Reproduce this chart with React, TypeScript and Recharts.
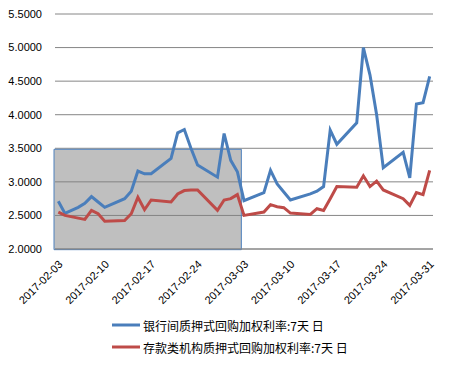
import React from "react";
import {
  LineChart,
  Line,
  XAxis,
  YAxis,
  CartesianGrid,
  Legend,
  ReferenceArea,
} from "recharts";

const dates: string[] = [
  "2017-02-03", "2017-02-04", "2017-02-06", "2017-02-07", "2017-02-08", "2017-02-09", "2017-02-10",
  "2017-02-13", "2017-02-14", "2017-02-15", "2017-02-16", "2017-02-17",
  "2017-02-20", "2017-02-21", "2017-02-22", "2017-02-23", "2017-02-24",
  "2017-02-27", "2017-02-28", "2017-03-01", "2017-03-02", "2017-03-03",
  "2017-03-06", "2017-03-07", "2017-03-08", "2017-03-09", "2017-03-10",
  "2017-03-13", "2017-03-14", "2017-03-15", "2017-03-16", "2017-03-17",
  "2017-03-20", "2017-03-21", "2017-03-22", "2017-03-23", "2017-03-24",
  "2017-03-27", "2017-03-28", "2017-03-29", "2017-03-30", "2017-03-31",
];

const interbank: number[] = [
  2.71, 2.53, 2.62, 2.68, 2.78, 2.70, 2.62,
  2.75, 2.86, 3.16, 3.12, 3.12,
  3.35, 3.73, 3.78, 3.50, 3.25,
  3.07, 3.72, 3.32, 3.15, 2.72,
  2.84, 3.17, 2.97, 2.85, 2.73,
  2.82, 2.86, 2.93, 3.77, 3.56,
  3.88, 5.00, 4.59, 4.00, 3.21,
  3.44, 3.06, 4.16, 4.18, 4.57,
];

const depository: number[] = [
  2.55, 2.50, 2.46, 2.44, 2.575, 2.525, 2.415,
  2.425, 2.525, 2.77, 2.585, 2.73,
  2.70, 2.82, 2.87, 2.88, 2.88,
  2.575, 2.73, 2.75, 2.81, 2.50,
  2.55, 2.66, 2.63, 2.615, 2.535,
  2.515, 2.60, 2.575, 2.75, 2.93,
  2.92, 3.09, 2.93, 3.01, 2.88,
  2.75, 2.65, 2.84, 2.81, 3.17,
];

const tickDates: string[] = [
  "2017-02-03", "2017-02-10", "2017-02-17", "2017-02-24", "2017-03-03",
  "2017-03-10", "2017-03-17", "2017-03-24", "2017-03-31",
];

const yTicks: number[] = [2.0, 2.5, 3.0, 3.5, 4.0, 4.5, 5.0, 5.5];

const seriesNames = ["银行间质押式回购加权利率:7天 日", "存款类机构质押式回购加权利率:7天 日"];
const seriesColors = ["#4A7EBB", "#BE4B48"];

// highlighted box (data coordinates: days from first date, rate)
const boxX: [number, number] = [-0.65, 27.6];
const boxY: [number, number] = [1.99, 3.485];

const DAY = 86400000;
const base = Date.parse(dates[0]);
const dayOf = (d: string) => Math.round((Date.parse(d) - base) / DAY);

const data = dates.map((d, i) => ({
  day: dayOf(d),
  a: interbank[i],
  b: depository[i],
}));

const xTicks = tickDates.map(dayOf);
const labelOf = (v: number) => {
  const idx = xTicks.indexOf(v);
  return idx >= 0 ? tickDates[idx] : "";
};

const XTick = (props: any) => {
  const { x, y, payload } = props;
  const ex = x + 5;
  const ey = y + 16;
  return (
    <text
      x={ex}
      y={ey}
      transform={`rotate(-45 ${ex} ${ey})`}
      textAnchor="end"
      fontSize={11}
      fontFamily="Arial, 'Liberation Sans', sans-serif"
      fill="#000"
    >
      {labelOf(payload.value)}
    </text>
  );
};

const LegendContent = () => (
  <div style={{ fontFamily: "'Noto Sans CJK SC', sans-serif", fontSize: 12, color: "#000" }}>
    {seriesNames.map((n, i) => (
      <div key={n} style={{ display: "flex", alignItems: "center", height: 22 }}>
        <svg width={30} height={6} style={{ marginRight: 1 }}>
          <line x1={0} y1={3} x2={28} y2={3} stroke={seriesColors[i]} strokeWidth={3} />
        </svg>
        <span>{n}</span>
      </div>
    ))}
  </div>
);

export default function App() {
  return (
    <div style={{ position: "absolute", left: 0, top: 0, width: 455, height: 366, background: "#fff" }}>
      <LineChart
        width={455}
        height={366}
        data={data}
        margin={{ top: 14, right: 22, left: 0, bottom: 57 }}
      >
        <CartesianGrid vertical={false} stroke="#868686" strokeWidth={1} />
        <XAxis
          dataKey="day"
          type="number"
          domain={[-0.5, 56.5]}
          ticks={xTicks}
          interval={0}
          axisLine={{ stroke: "#868686" }}
          tickLine={false}
          tickSize={0}
          tickMargin={0}
          height={60}
          tick={<XTick />}
        />
        <YAxis
          type="number"
          domain={[2, 5.5]}
          ticks={yTicks}
          interval={0}
          width={55}
          axisLine={false}
          tickLine={false}
          tickSize={6}
          tickMargin={7}
          tickFormatter={(v: number) => v.toFixed(4)}
          tick={{ fontSize: 11, fill: "#000", fontFamily: "Arial, 'Liberation Sans', sans-serif" }}
        />
        <ReferenceArea
          x1={boxX[0]}
          x2={boxX[1]}
          y1={boxY[0]}
          y2={boxY[1]}
          ifOverflow="visible"
          fill="#808080"
          fillOpacity={0.5}
          stroke="#4F81BD"
          strokeWidth={1}
        />
        <Line
          type="linear"
          dataKey="a"
          name={seriesNames[0]}
          stroke={seriesColors[0]}
          strokeWidth={3}
          dot={false}
          isAnimationActive={false}
        />
        <Line
          type="linear"
          dataKey="b"
          name={seriesNames[1]}
          stroke={seriesColors[1]}
          strokeWidth={3}
          dot={false}
          isAnimationActive={false}
        />
        <Legend
          layout="vertical"
          verticalAlign="middle"
          align="center"
          content={<LegendContent />}
          wrapperStyle={{ position: "absolute", left: 112, top: 314, width: 300 }}
        />
      </LineChart>
    </div>
  );
}
